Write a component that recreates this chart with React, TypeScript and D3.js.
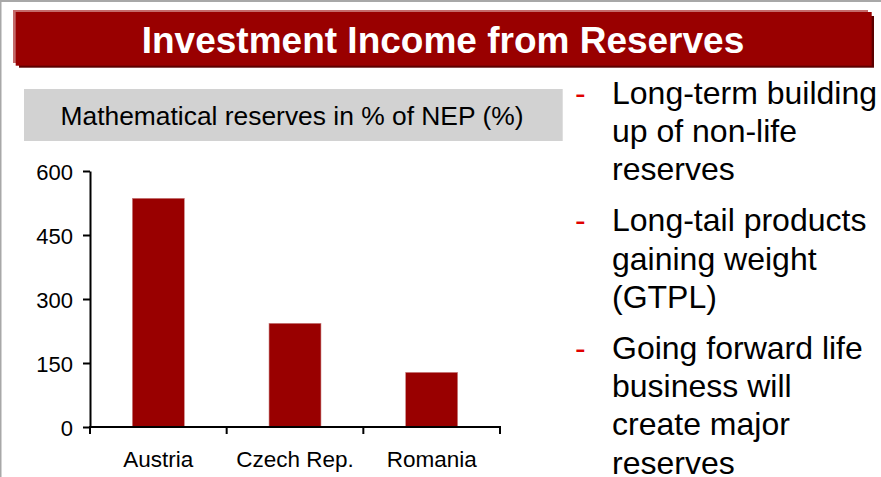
import React, { useEffect, useRef } from "react";
import * as d3 from "d3";

const categories = ["Austria", "Czech Rep.", "Romania"];
const values = [536, 243, 128];
const yTicks = [0, 150, 300, 450, 600];
const title = "Investment Income from Reserves";
const subtitle = "Mathematical reserves in % of NEP (%)";
const bullets = [
  ["Long-term building", "up of non-life", "reserves"],
  ["Long-tail products", "gaining weight", "(GTPL)"],
  ["Going forward life", "business will", "create major", "reserves"],
];

const FONT = "'Liberation Sans', Arial, Helvetica, sans-serif";

export default function App() {
  const ref = useRef<SVGSVGElement | null>(null);

  useEffect(() => {
    const svg = d3.select(ref.current);
    svg.selectAll("*").remove();

    // page borders
    svg.append("rect").attr("x", 0).attr("y", 0).attr("width", 881).attr("height", 477).attr("fill", "#fff");
    svg.append("rect").attr("x", 0).attr("y", 0).attr("width", 881).attr("height", 2).attr("fill", "#a8a8a8");
    svg.append("rect").attr("x", 0).attr("y", 0).attr("width", 1.5).attr("height", 477).attr("fill", "#a8a8a8");

    // title banner
    svg.append("rect").attr("x", 13).attr("y", 10).attr("width", 855).attr("height", 53).attr("fill", "#c46a6a");
    svg.append("rect").attr("x", 19).attr("y", 16).attr("width", 855).attr("height", 51.7).attr("fill", "#5c0000");
    svg.append("rect").attr("x", 15.7).attr("y", 12).attr("width", 856).attr("height", 53.7).attr("fill", "#990000");
    svg.append("text")
      .attr("x", 443).attr("y", 53)
      .attr("text-anchor", "middle")
      .attr("font-family", FONT).attr("font-weight", "bold").attr("font-size", 37)
      .attr("fill", "#fff")
      .text(title);

    // subtitle box
    svg.append("rect").attr("x", 24).attr("y", 89).attr("width", 538.7).attr("height", 52).attr("fill", "#d2d2d2");
    svg.append("text")
      .attr("x", 292).attr("y", 125)
      .attr("text-anchor", "middle")
      .attr("font-family", FONT).attr("font-size", 26.4)
      .attr("fill", "#000")
      .text(subtitle);

    // chart
    const x = d3.scaleBand<string>().domain(categories).range([90, 500]).paddingInner(0.62).paddingOuter(0.31);
    const y = d3.scaleLinear().domain([0, 600]).range([427, 171]);

    const g = svg.append("g");
    g.selectAll("rect.bar")
      .data(values)
      .enter()
      .append("rect")
      .attr("class", "bar")
      .attr("x", (_d, i) => x(categories[i]) as number)
      .attr("y", (d) => y(d))
      .attr("width", x.bandwidth())
      .attr("height", (d) => y(0) - y(d))
      .attr("fill", "#990000")
      .attr("stroke", "#c88080")
      .attr("stroke-width", 0.6);

    // y axis
    const yAxis = d3.axisLeft(y).tickValues(yTicks).tickSize(7).tickSizeOuter(0).tickPadding(10);
    const ya = g.append("g").attr("transform", "translate(90,0)").call(yAxis);
    ya.select(".domain").attr("stroke", "#000").attr("stroke-width", 2);
    ya.selectAll(".tick line").attr("stroke", "#000").attr("stroke-width", 2);
    ya.selectAll(".tick text")
      .attr("font-family", FONT).attr("font-size", 22).attr("fill", "#000")
      .attr("dy", null).attr("dominant-baseline", null)
      .attr("y", 8).attr("x", -17);

    // x axis
    const step = x.step();
    const boundaries = d3.range(categories.length + 1).map((i) => x.range()[0] + i * step);
    g.append("line")
      .attr("x1", x.range()[0] - 1).attr("x2", x.range()[1] + 1)
      .attr("y1", y(0)).attr("y2", y(0))
      .attr("stroke", "#000").attr("stroke-width", 2);
    g.selectAll("line.xt")
      .data(boundaries)
      .enter()
      .append("line")
      .attr("class", "xt")
      .attr("x1", (d) => d).attr("x2", (d) => d)
      .attr("y1", y(0)).attr("y2", y(0) + 7)
      .attr("stroke", "#000").attr("stroke-width", 2);
    g.selectAll("text.xl")
      .data(categories)
      .enter()
      .append("text")
      .attr("class", "xl")
      .attr("x", (d) => (x(d) as number) + x.bandwidth() / 2)
      .attr("y", 467)
      .attr("text-anchor", "middle")
      .attr("font-family", FONT).attr("font-size", 22.5).attr("fill", "#000")
      .text((d) => d);

    // bullets
    const lineH = 38.2;
    const groupGap = 13;
    let base = 103.8;
    const bg = svg.append("g").attr("font-family", FONT).attr("font-size", 32);
    bullets.forEach((lines) => {
      bg.append("text").attr("x", 575).attr("y", base).attr("fill", "#e00000").text("-");
      lines.forEach((ln, j) => {
        bg.append("text").attr("x", 612).attr("y", base + j * lineH).attr("fill", "#000").text(ln);
      });
      base += lines.length * lineH + groupGap;
    });
  }, []);

  return (
    <svg
      ref={ref}
      width={881}
      height={477}
      style={{ position: "absolute", left: 0, top: 0, display: "block" }}
    />
  );
}
